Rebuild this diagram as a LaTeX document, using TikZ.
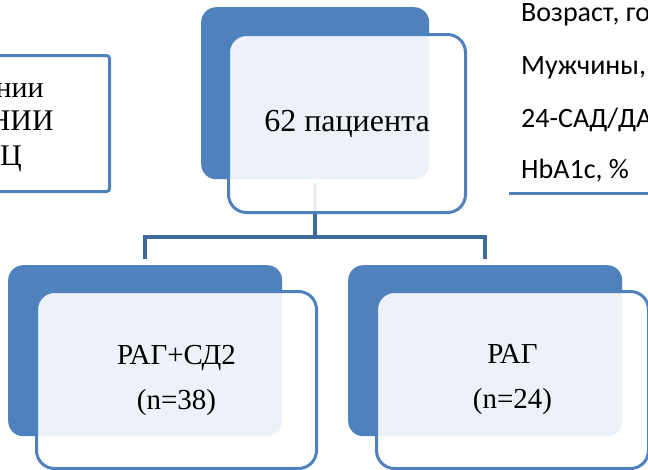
\documentclass[tikz,border=0pt]{standalone}
\usepackage{fontspec}
\setmainfont{Liberation Serif}
\newfontfamily\infofont{Carlito}
\usetikzlibrary{positioning}

\definecolor{accent}{RGB}{79,129,189}
\definecolor{linkblue}{RGB}{64,106,156}

\tikzset{
	backbox/.style = {fill = accent, rounded corners = 15pt, inner sep = 0pt, anchor = north west},
	frontbox/.style = {draw = accent, line width = 3pt, fill = white, fill opacity = 0.9, text opacity = 1,
		rounded corners = 18pt, inner sep = 0pt, anchor = north west, align = center},
	connector/.style = {draw = linkblue, line width = 4pt},
	infotext/.style = {anchor = base west, inner sep = 0pt, font = \infofont\fontsize{28}{32}\selectfont}
}

\begin{document}
\begin{tikzpicture}[x = 1pt, y = -1pt]

	% Canvas
	
	\useasboundingbox (0, 0) rectangle (648, 469);
	\clip (0, 0) rectangle (648, 469);
	
	% Back boxes
	
	\foreach \name/\x/\y/\w/\h in {topback/201/7/228/172, leftback/8/265/274/171, rightback/348/265/274/171}
	{
		\node [backbox, minimum width = \w pt, minimum height = \h pt] (\name) at (\x, \y) {};
	}
	
	% Connectors
	
	\coordinate (bus) at (0, 236.5);
	\draw [connector, shorten < = 4pt] (topback.south) -- (topback.south |- bus);
	\draw [connector, shorten < = 6pt, shorten > = 6pt] (leftback.north) |- (bus -| rightback.north) -- (rightback.north);
	
	% Front boxes with labels
	
	\node [frontbox, minimum width = 237pt, minimum height = 178pt, font = \fontsize{32}{38}\selectfont] (topfront) at (227, 33) {62 пациента};
	\node [frontbox, minimum width = 280pt, minimum height = 177pt, font = \fontsize{29}{45}\selectfont] (leftfront) at (35, 290) {РАГ+СД2\\(n=38)};
	\node [frontbox, minimum width = 272pt, minimum height = 177pt, font = \fontsize{29}{45}\selectfont] (rightfront) at (375, 290) {РАГ\\(n=24)};
	
	% Box at the left edge
	
	\node [draw = accent, line width = 3pt, rounded corners = 3pt, inner sep = 0pt, anchor = north east,
		minimum width = 140pt, minimum height = 136pt] (source) at (111, 54) {};
	\foreach \txt/\x/\y in {нии/44/97, НИИ/54/130, Ц/22/165}
	{
		\node [anchor = base east, inner sep = 0pt, font = \fontsize{30}{36}\selectfont] at (\x, \y) {\txt};
	}
	
	% Patient data
	
	\node [infotext] (age) at (521, 21) {Возраст, го};
	\node [infotext] (men) at (521, 74) {Мужчины,};
	\node [infotext] (bp) at (521, 127) {24-САД/ДА};
	\node [infotext] (hba) at (521, 178) {HbA1c, \%};
	\coordinate (rulestart) at (509, 193);
	\draw [accent, line width = 3pt] (rulestart) -- ++(150, 0);

\end{tikzpicture}
\end{document}
